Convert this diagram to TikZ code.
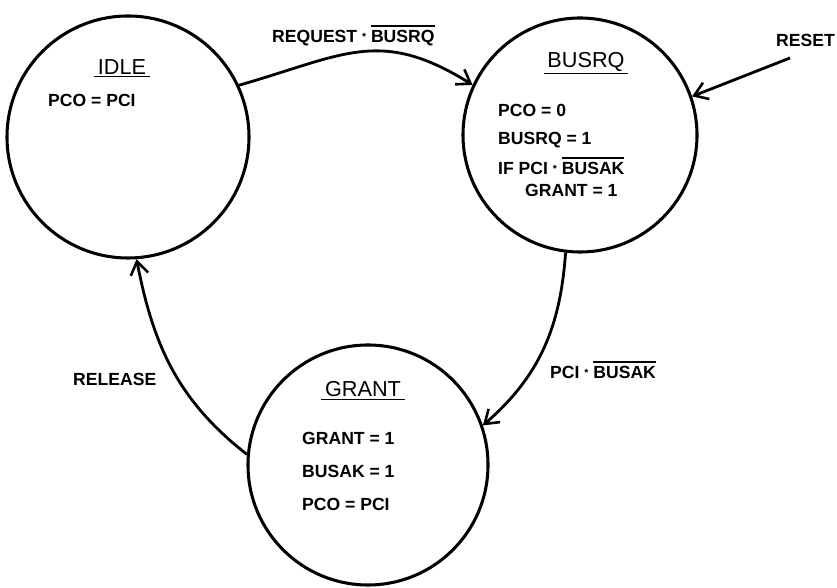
\documentclass[tikz,border=0pt]{standalone}
\usepackage{fontspec}
\setmainfont{Liberation Sans}
\usetikzlibrary{arrows.meta}
% negated signal: thick bar over the name
\newcommand{\notsig}[1]{\vbox{\hrule height 1.4pt\kern 3.5pt\hbox{#1}}}
\newcommand{\andop}{\raisebox{0.25ex}{\small *}}

\begin{document}
\begin{tikzpicture}[x=0.03cm,y=0.03cm,
  st/.style={circle,draw,line width=2.6pt,inner sep=0pt},
  ttl/.style={anchor=base,inner sep=0pt,font=\fontsize{18.5}{20}\selectfont},
  ln/.style={anchor=base west,inner sep=0pt,font=\bfseries\fontsize{15}{17}\selectfont},
  tr/.style={line width=2.4pt,-{Straight Barb[length=11pt,width=15pt,line width=2.2pt]}}]
 \useasboundingbox (0,0) rectangle (837,588);
 % states
 \node[st,minimum size=7.26cm] (idle) at (128,451) {};
 \node[st,minimum size=7.02cm] (busrq) at (580,453) {};
 \node[st,minimum size=7.2cm] (grant) at (368,123) {};
 \node[ttl] (idlet) at (122,513) {\underline{\,IDLE\,}};
 \node[ttl] (busrqt) at (586,520) {\underline{\,BUSRQ\,}};
 \node[ttl] (grantt) at (363,191) {\underline{\,GRANT\,}};
 % outputs
 \node[ln] (i1) at (48,481) {PCO = PCI};
 \node[ln] (b1) at (498,471) {PCO = 0};
 \node[ln] (b2) at (498,443) {BUSRQ = 1};
 \node[ln] (b3) at (498,413) {IF PCI \andop\ \notsig{BUSAK}};
 \node[ln] (b4) at (525,391) {GRANT = 1};
 \node[ln] (g1) at (302,143) {GRANT = 1};
 \node[ln] (g2) at (302,110) {BUSAK = 1};
 \node[ln] (g3) at (302,77) {PCO = PCI};
 % transitions
 \node[ln] (req) at (272,545) {REQUEST \andop\ \notsig{BUSRQ}};
 \node[ln] (rst) at (776,541) {RESET};
 \node[ln] (ack) at (550,209) {PCI \andop\ \notsig{BUSAK}};
 \node[ln] (rel) at (73,202) {RELEASE};
 \coordinate (rs) at (790,530);
 \draw[tr] (idle.25) to[out=16,in=148,looseness=1.2] (busrq.155);
 \draw[tr] (rs) -- (busrq.19);
 \draw[tr] (busrq.263) to[out=266,in=41] (grant.19);
 \draw[tr] (grant.175) to[out=142,in=-79] (idle.274);
\end{tikzpicture}
\end{document}
